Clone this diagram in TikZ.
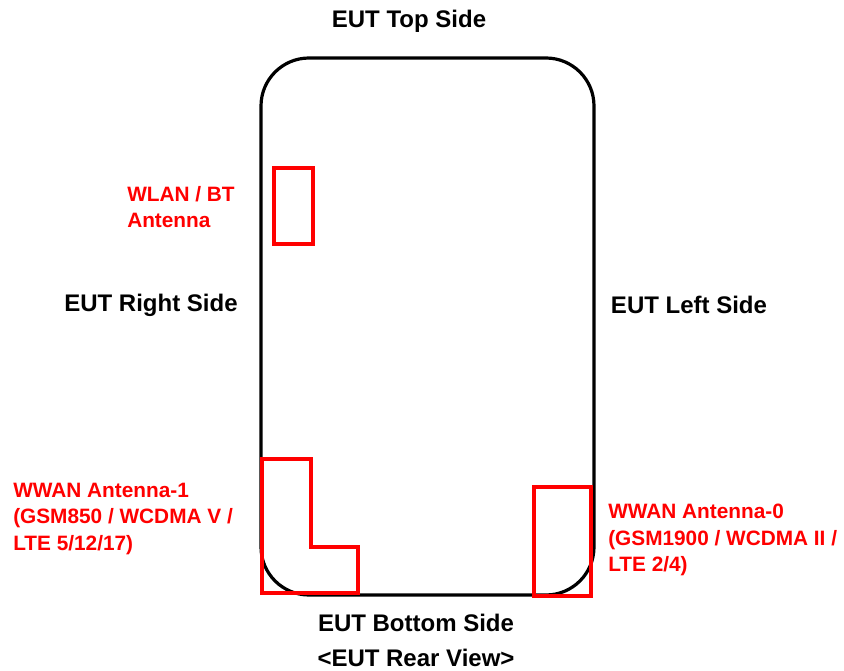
\documentclass[tikz,border=0pt]{standalone}
\usepackage{fontspec}
\setmainfont{Liberation Sans}
\usetikzlibrary{positioning}
\definecolor{antred}{rgb}{1, 0, 0}

\begin{document}
\begin{tikzpicture}[x=0.75pt, y=-0.75pt,
    side/.style={font=\fontsize{18}{22}\selectfont\bfseries, inner sep=0pt},
    ant/.style={text=antred, font=\fontsize{15.6}{19.9}\selectfont\bfseries, align=left, anchor=west, inner sep=0pt},
    antbox/.style={draw=antred, line width=2.6pt}]
    \useasboundingbox (0,0) rectangle (844,671);

    % Device outline (rear view)
    \draw[line width=2.4pt, rounded corners=36pt] (261,58) rectangle (594,595);

    % Antenna areas
    \draw[antbox] (274,168) rectangle (313,244);
    \draw[antbox] (262,459) -- (311,459) -- (311,547) -- (358,547) -- (358,593) -- (262,593) -- cycle;
    \draw[antbox] (534,487) rectangle (591,596);

    % Side labels
    \node[side] (top) at (409,21) {EUT Top Side};
    \node[side] (right) at (151,305) {EUT Right Side};
    \node[side] (left) at (689,305) {EUT Left Side};
    \node[side] (bottom) at (416,623) {EUT Bottom Side};
    \node[side] (view) at (416,658) {<EUT Rear View>};

    % Antenna labels
    \node[ant] (wlan) at (127,207) {WLAN / BT\\Antenna};
    \node[ant] (wwan1) at (13,519) {WWAN Antenna-1\\(GSM850 / WCDMA V /\\LTE 5/12/17)};
    \node[ant] (wwan0) at (608,540) {WWAN Antenna-0\\(GSM1900 / WCDMA II /\\LTE 2/4)};
\end{tikzpicture}
\end{document}
